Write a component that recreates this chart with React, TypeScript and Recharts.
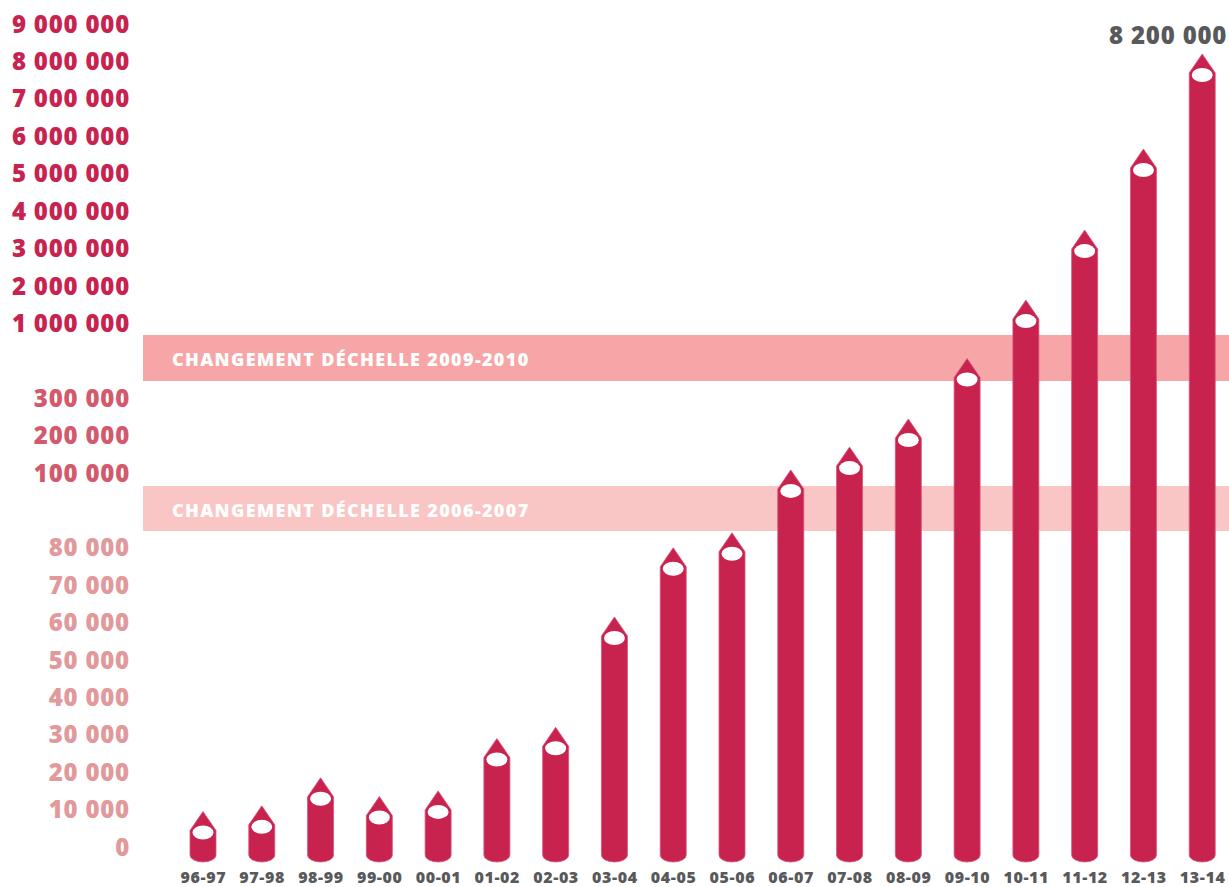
import React from 'react';
import { BarChart, Bar, XAxis, YAxis, ReferenceArea, LabelList } from 'recharts';

const CATEGORIES = ['96-97', '97-98', '98-99', '99-00', '00-01', '01-02', '02-03', '03-04', '04-05', '05-06', '06-07', '07-08', '08-09', '09-10', '10-11', '11-12', '12-13', '13-14'];
const VALUES = [9500, 11000, 18500, 13500, 15000, 29000, 32000, 61500, 80000, 84000, 108000, 169000, 244000, 670000, 1620000, 3490000, 5660000, 8200000];
const Y_TICKS_LOW = [0, 10000, 20000, 30000, 40000, 50000, 60000, 70000, 80000];
const Y_TICKS_MID = [100000, 200000, 300000];
const Y_TICKS_HIGH = [1000000, 2000000, 3000000, 4000000, 5000000, 6000000, 7000000, 8000000, 9000000];
const BREAK_LABELS = ['CHANGEMENT DÉCHELLE 2006-2007', 'CHANGEMENT DÉCHELLE 2009-2010'];
const BREAK_FROM = [84500, 461000];
const BREAK_TO = [96500, 891000];
const BREAK_COLORS = ['#f9c6c5', '#f7a6a8'];

// broken-axis transform: value -> axis units
const toU = (v: number) => {
  if (v <= 100000) return v / 10000;
  if (v <= 300000) return 10 + (v - 100000) / 100000;
  if (v <= 1000000) return 12 + (2 * (v - 300000)) / 700000;
  return 14 + (v - 1000000) / 1000000;
};

const fmt = (v: number) => String(v).replace(/\B(?=(\d{3})+(?!\d))/g, ' ');

const ALL_TICKS = [...Y_TICKS_LOW, ...Y_TICKS_MID, ...Y_TICKS_HIGH];
const TICK_U = ALL_TICKS.map(toU);

const data = CATEGORIES.map((c, i) => ({ cat: c, u: toU(VALUES[i]), value: VALUES[i] }));

const FONT = '"Open Sans", "DejaVu Sans", sans-serif';
const BAR = '#c8234f';

const YTick = (props: any) => {
  const { x, y, payload } = props;
  const idx = TICK_U.indexOf(payload.value);
  const v = ALL_TICKS[idx];
  const color = v < 100000 ? '#e2999c' : v < 1000000 ? '#d35a6d' : '#c8234f';
  return (
    <text x={x} y={y} dy="0.36em" textAnchor="end" fill={color} fontFamily={FONT} fontWeight={800} fontSize={24} letterSpacing={0.8}>
      {fmt(v)}
    </text>
  );
};

const XTick = (props: any) => {
  const { x, y, payload } = props;
  return (
    <text x={x} y={y} dy={28} textAnchor="middle" fill="#58595b" fontFamily={FONT} fontWeight={800} fontSize={16} letterSpacing={0.6}>
      {payload.value}
    </text>
  );
};

const Pencil = (props: any) => {
  const { x, y, width, height } = props;
  if (width == null || y == null) return null;
  const cx = x + width / 2;
  const hw = width / 2;
  const base = y + height;
  const shoulder = y + 19;
  const bottom = base + 8;
  const d = `M${x},${shoulder} L${cx},${y} L${x + width},${shoulder} L${x + width},${bottom} A${hw},7 0 0 1 ${x},${bottom} Z`;
  return (
    <g>
      <path d={d} fill={BAR} stroke="#d9557a" strokeWidth={0.8} />
      <ellipse cx={cx} cy={shoulder + 2} rx={hw - 2.5} ry={7} fill="#ffffff" />
    </g>
  );
};

const BandLabel = (text: string) => (props: any) => {
  const vb = props.viewBox || {};
  return (
    <text x={vb.x + 29} y={vb.y + vb.height / 2 + 2} dy="0.36em" fill="#ffffff" fontFamily={FONT} fontWeight={800} fontSize={18} letterSpacing={1.35}>
      {text}
    </text>
  );
};

const TopLabel = (props: any) => {
  const { x, y, width, index } = props;
  if (index !== VALUES.length - 1) return null;
  return (
    <text x={x + width / 2 + 25} y={y - 10} textAnchor="end" fill="#58595b" fontFamily={FONT} fontWeight={800} fontSize={24} letterSpacing={0.8}>
      {fmt(VALUES[index])}
    </text>
  );
};

export default function App() {
  return (
    <div style={{ position: 'absolute', left: 0, top: 0, width: 1229, height: 887, overflow: 'hidden', background: '#fff' }}>
      <BarChart width={1232} height={887} data={data} margin={{ top: 24, right: 0, bottom: 0, left: 0 }} barSize={26}>
        <XAxis xAxisId="full" dataKey="cat" hide padding={{ left: 0, right: 0 }} />
        <XAxis dataKey="cat" axisLine={false} tickLine={false} height={40} padding={{ left: 31, right: 0 }} tick={<XTick />} interval={0} />
        <YAxis type="number" domain={[0, 22]} ticks={TICK_U} axisLine={false} tickLine={false} width={143} tickSize={6} tickMargin={7} tick={<YTick />} interval={0} />
        {BREAK_LABELS.map((t, i) => (
          <ReferenceArea key={t} xAxisId="full" y1={toU(BREAK_FROM[i])} y2={toU(BREAK_TO[i])} fill={BREAK_COLORS[i]} fillOpacity={1} stroke="none" label={BandLabel(t)} ifOverflow="visible" />
        ))}
        <Bar dataKey="u" shape={<Pencil />} isAnimationActive={false}>
          <LabelList dataKey="value" content={<TopLabel />} />
        </Bar>
      </BarChart>
    </div>
  );
}
